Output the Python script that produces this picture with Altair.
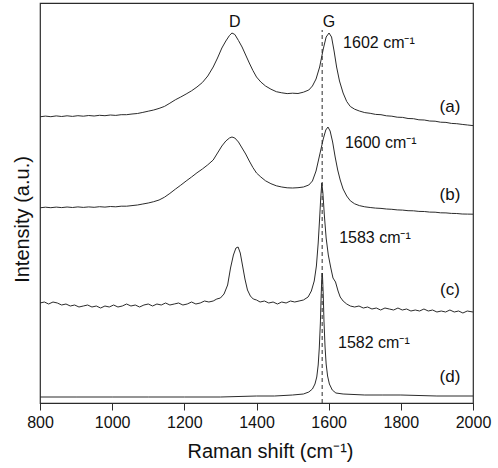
import altair as alt
import pandas as pd

# Raman spectra of four carbon samples, stacked with vertical offsets (a.u.)
A_X = [800, 815, 830, 845, 860, 875, 890, 905, 920, 935, 950, 965, 980, 995, 1010, 1025, 1040, 1055,
       1070, 1085, 1100, 1115, 1130, 1145, 1160, 1175, 1190, 1205, 1220, 1235, 1250, 1265, 1280, 1292,
       1304, 1315, 1325, 1332, 1340, 1350, 1360, 1370, 1380, 1390, 1400, 1412, 1425, 1440, 1455, 1470,
       1485, 1500, 1515, 1530, 1545, 1555, 1565, 1575, 1585, 1593, 1601, 1608, 1615, 1622, 1630, 1640,
       1650, 1660, 1672, 1685, 1700, 1715, 1730, 1745, 1760, 1775, 1790, 1805, 1820, 1835, 1850, 1865,
       1880, 1895, 1910, 1925, 1940, 1955, 1970, 1985, 2000]
A_Y = [286.2, 286.9, 286.3, 287.1, 286.5, 287.2, 286.6, 287.3, 286.8, 287.5, 287.0, 287.7, 287.3, 288.0, 287.6, 288.3, 288.3, 289.0,
       289.5, 290.6, 291.8, 293.0, 294.6, 296.6, 299.8, 303.2, 306.0, 309.0, 312.2, 316.0, 320.5, 327.0, 336.0, 345.0,
       355.0, 362.0, 367.5, 370.0, 368.5, 362.5, 356.0, 348.0, 340.0, 332.5, 326.0, 321.0, 317.0, 313.8, 311.3, 310.2,
       309.4, 309.8, 309.5, 310.8, 313.0, 317.0, 324.0, 336.0, 354.0, 366.0, 370.0, 366.0, 352.0, 336.0, 322.0, 310.0,
       301.5, 296.5, 293.8, 292.0, 290.4, 289.7, 288.6, 288.3, 287.2, 286.8, 285.8, 285.6, 284.5, 284.3, 283.2, 283.0,
       282.0, 281.8, 280.8, 280.6, 279.6, 279.3, 278.6, 278.0, 277.4]

B_X = [800, 815, 830, 845, 860, 875, 890, 905, 920, 935, 950, 965, 980, 995, 1010, 1025, 1040, 1055,
       1070, 1085, 1100, 1115, 1130, 1145, 1160, 1175, 1190, 1205, 1220, 1235, 1250, 1265, 1280, 1292,
       1304, 1315, 1325, 1332, 1340, 1350, 1360, 1370, 1380, 1390, 1400, 1412, 1425, 1440, 1455, 1470,
       1485, 1500, 1515, 1530, 1545, 1555, 1565, 1575, 1585, 1592, 1598, 1604, 1611, 1618, 1625, 1632,
       1640, 1650, 1660, 1672, 1685, 1700, 1715, 1730, 1745, 1760, 1775, 1790, 1805, 1820, 1835, 1850,
       1865, 1880, 1895, 1910, 1925, 1940, 1955, 1970, 1985, 2000]
B_Y = [195.2, 195.8, 195.3, 195.9, 195.4, 196.0, 195.5, 196.1, 195.6, 196.1, 195.7, 196.3, 195.9, 196.5, 196.2, 196.8, 196.8, 197.4,
       198.0, 199.0, 200.0, 201.3, 203.0, 205.8, 209.6, 213.8, 217.8, 222.0, 226.0, 230.2, 234.0, 238.2, 243.0, 250.0,
       257.0, 262.0, 265.0, 266.0, 265.0, 261.0, 255.0, 249.0, 242.0, 235.5, 230.0, 226.0, 222.2, 219.3, 217.2, 216.0,
       215.2, 215.0, 215.3, 216.0, 218.0, 222.0, 232.0, 248.0, 264.0, 273.0, 276.0, 272.0, 261.0, 246.0, 233.0, 223.0,
       214.0, 207.0, 202.2, 199.2, 197.4, 196.2, 195.5, 194.9, 194.6, 194.0, 193.7, 193.1, 192.9, 192.3, 192.2, 191.6,
       191.5, 190.9, 190.8, 190.2, 190.1, 189.6, 189.5, 189.0, 188.9, 188.8]

C_X = [800, 812, 824, 836, 848, 860, 872, 884, 896, 908, 920, 932, 944, 956, 968, 980, 992, 1004,
       1016, 1028, 1040, 1052, 1064, 1076, 1088, 1100, 1112, 1124, 1136, 1148, 1160, 1172, 1184, 1196,
       1208, 1220, 1232, 1244, 1256, 1268, 1280, 1290, 1300, 1310, 1320, 1328, 1336, 1343, 1349, 1355,
       1361, 1368, 1375, 1383, 1391, 1400, 1410, 1422, 1434, 1446, 1458, 1470, 1482, 1494, 1506, 1518,
       1530, 1543, 1552, 1560, 1566, 1571, 1575, 1578, 1581, 1584, 1588, 1593, 1599, 1606, 1612, 1619,
       1626, 1632, 1640, 1650, 1660, 1672, 1684, 1696, 1708, 1720, 1732, 1744, 1756, 1768, 1780, 1792,
       1804, 1816, 1828, 1840, 1852, 1864, 1876, 1888, 1900, 1912, 1924, 1936, 1948, 1960, 1972, 1984,
       2000]
C_Y = [100, 101, 99, 101, 100, 98, 99, 97, 98, 96, 97, 98, 96, 97, 95, 97, 96, 98,
       96, 97, 99, 97, 98, 96, 98, 99, 97, 99, 98, 100, 98, 99, 100, 98,
       99, 101, 99, 100, 102, 101, 102, 104, 105, 109, 118, 135, 148, 155, 156, 150,
       138, 124, 113, 107, 104, 103, 101, 102, 100, 101, 99, 101, 100, 102, 101, 102,
       103, 106, 112, 122, 137, 160, 185, 205, 220, 210, 188, 165, 148, 135, 125, 121,
       112, 106, 102, 99, 97, 96, 97, 95, 96, 94, 95, 93, 95, 94, 93, 95,
       93, 94, 92, 93, 92, 94, 92, 93, 91, 92, 91, 93, 91, 92, 90, 92,
       91]

D_X = [800, 900, 1000, 1100, 1200, 1300, 1400, 1450, 1500, 1530, 1545, 1555, 1562, 1567, 1571, 1574,
       1577, 1579, 1581, 1582, 1583, 1585, 1587, 1590, 1593, 1597, 1602, 1610, 1620, 1640, 1700, 1750,
       1800, 1900, 2000]
D_Y = [6, 6, 6, 6, 6, 6, 7, 7, 8, 9, 11, 14, 19, 26, 38, 55,
       80, 105, 125, 130, 126, 108, 82, 56, 39, 27, 19, 13, 10, 9, 8, 8,
       8, 7, 7]

SERIES = ["a", "b", "c", "d"]

# Curve tags on the right
TAG_TEXT = ["(a)", "(b)", "(c)", "(d)"]
TAG_X = [1936, 1936, 1936, 1936]
TAG_Y = [296, 208, 113, 26]

# G-band positions written next to each peak
POS_TEXT = ["1602 cm⁻¹", "1600 cm⁻¹", "1583 cm⁻¹", "1582 cm⁻¹"]
POS_X = [1640, 1645, 1629, 1626]
POS_Y = [360, 260, 165, 60]

# Band names above the top spectrum
BAND_TEXT = ["D", "G"]
BAND_X = [1340, 1601]
BAND_Y = [381, 381]

# Reference position of the graphite G band
G_LINE_X = [1582]
G_LINE_BOTTOM = [0]
G_LINE_TOP = [373]

spectra = pd.concat(
    [pd.DataFrame({"shift": xs, "intensity": ys, "sample": s})
     for s, xs, ys in zip(SERIES, [A_X, B_X, C_X, D_X], [A_Y, B_Y, C_Y, D_Y])],
    ignore_index=True,
)
tags = pd.DataFrame({"shift": TAG_X, "intensity": TAG_Y, "label": TAG_TEXT})
positions = pd.DataFrame({"shift": POS_X, "intensity": POS_Y, "label": POS_TEXT})
bands = pd.DataFrame({"shift": BAND_X, "intensity": BAND_Y, "label": BAND_TEXT})
g_line = pd.DataFrame({"shift": G_LINE_X, "y0": G_LINE_BOTTOM, "y1": G_LINE_TOP})

FONT = "Liberation Sans"
INK = "#2b2b2b"

x_scale = alt.Scale(domain=[800, 2000], nice=False, zero=False)
y_scale = alt.Scale(domain=[0, 400], nice=False, zero=True)

x_axis = alt.Axis(
    title="Raman shift (cm⁻¹)",
    values=list(range(800, 2001, 100)),
    labelExpr="datum.value % 200 === 0 ? datum.label : ''",
    tickSize={"condition": {"test": "datum.value % 200 === 0", "value": 7}, "value": 4},
    tickColor=INK,
    tickWidth=1,
    labelFontSize=16,
    labelFont=FONT,
    labelColor="#111",
    labelPadding=4,
    labelFlush=False,
    titleFontSize=20,
    titleFont=FONT,
    titleFontWeight="normal",
    titleColor="#111",
    titlePadding=11,
    titleX=230,
    grid=False,
    domain=False,
    format="d",
)
y_axis = alt.Axis(
    title="Intensity (a.u.)",
    labels=False,
    ticks=False,
    grid=False,
    domain=False,
    titleFontSize=20,
    titleFont=FONT,
    titleFontWeight="normal",
    titleColor="#111",
    titleX=-8,
    titleY=216,
)

lines = alt.Chart(spectra).mark_line(color=INK, strokeWidth=1).encode(
    x=alt.X("shift:Q", scale=x_scale, axis=x_axis),
    y=alt.Y("intensity:Q", scale=y_scale, axis=y_axis),
    detail="sample:N",
)

dashed = alt.Chart(g_line).mark_rule(color=INK, strokeWidth=1, strokeDash=[4, 3]).encode(
    x="shift:Q",
    y="y0:Q",
    y2="y1:Q",
)

tag_text = alt.Chart(tags).mark_text(
    font=FONT, fontSize=17, color="#111", align="center", baseline="middle"
).encode(x="shift:Q", y="intensity:Q", text="label:N")

pos_text = alt.Chart(positions).mark_text(
    font=FONT, fontSize=16, color="#111", align="left", baseline="middle"
).encode(x="shift:Q", y="intensity:Q", text="label:N")

band_text = alt.Chart(bands).mark_text(
    font=FONT, fontSize=16, color="#111", align="center", baseline="middle"
).encode(x="shift:Q", y="intensity:Q", text="label:N")

chart = (
    alt.layer(lines, dashed, tag_text, pos_text, band_text)
    .properties(
        width=433,
        height=400,
        autosize=alt.AutoSizeParams(type="none"),
        padding={"left": 40, "top": 3, "right": 25, "bottom": 65},
        background="white",
    )
    .configure_view(stroke=INK, strokeWidth=1.2)
)

chart.save("out.html", embed_options={"renderer": "svg", "actions": False})
